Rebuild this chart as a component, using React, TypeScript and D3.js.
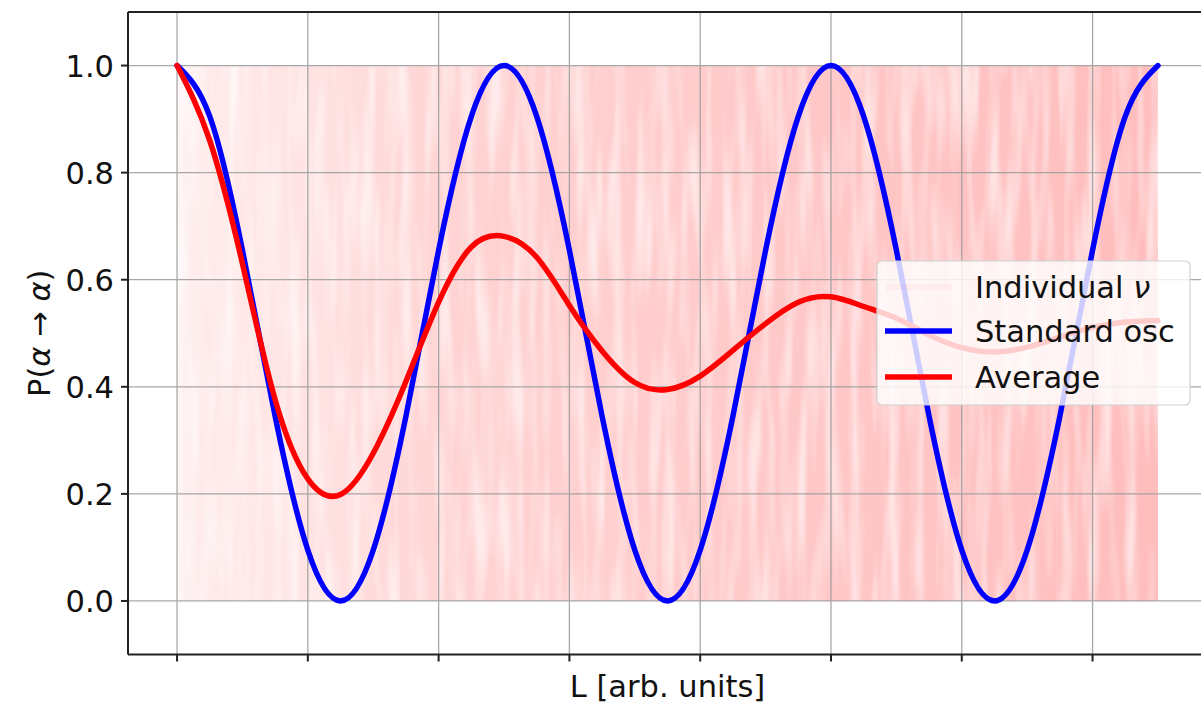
import React from "react";
import * as d3 from "d3";

// ---- data ----
const L_VALUES = [
  0, 0.25, 0.5, 0.75, 1, 1.25, 1.5, 1.75, 2, 2.25, 2.5, 2.75, 3, 3.25, 3.5, 3.75,
  4, 4.25, 4.5, 4.75, 5, 5.25, 5.5, 5.75, 6, 6.25, 6.5, 6.75, 7, 7.25, 7.5,
];
const STANDARD_OSC = [
  1.0, 0.905, 0.655, 0.345, 0.095, 0.0, 0.095, 0.345, 0.655, 0.905,
  1.0, 0.905, 0.655, 0.345, 0.095, 0.0, 0.095, 0.345, 0.655, 0.905,
  1.0, 0.905, 0.655, 0.345, 0.095, 0.0, 0.095, 0.345, 0.655, 0.905,
  1.0,
];
const AVERAGE = [
  1.0, 0.86, 0.63, 0.376, 0.228, 0.199, 0.276, 0.41, 0.558, 0.661, 0.681,
  0.642, 0.552, 0.467, 0.408, 0.395, 0.42, 0.468, 0.518, 0.558, 0.568, 0.55,
  0.528, 0.497, 0.473, 0.465, 0.474, 0.493, 0.511, 0.521, 0.524,
];
// envelope of the many faint individual-neutrino curves (min / max of P)
const INDIVIDUAL_RANGE = [0, 1];
const X_TICKS = [0, 1, 2, 3, 4, 5, 6, 7];
const Y_TICKS = [0, 0.2, 0.4, 0.6, 0.8, 1.0];
const Y_TICK_LABELS = ["0.0", "0.2", "0.4", "0.6", "0.8", "1.0"];
const LEGEND_LABELS = ["Individual ν", "Standard osc", "Average"];

const W = 1201;
const H = 703;
const FONT = "'DejaVu Sans', sans-serif";
const FS = 30.5;
const TXT = "#111";

export default function App() {
  const x = d3.scaleLinear().domain([-0.375, 7.875]).range([128, 1207]);
  const y = d3.scaleLinear().domain([-0.1, 1.1]).range([654.5, 12]);

  const line = (vals: number[]) =>
    d3
      .line<number>()
      .x((_, i) => x(L_VALUES[i]))
      .y((d) => y(d))
      .curve(d3.curveNatural)(vals) || "";

  const [x0, x1] = [x(L_VALUES[0]), x(L_VALUES[L_VALUES.length - 1])];
  const [r0, r1] = x.range();
  const [yb, yt] = y.range();

  const lx = 877, ly = 261, lw = 313, lh = 144;
  const rowY = [287, 331, 377];

  return (
    <svg
      width={W}
      height={H}
      style={{ position: "absolute", left: 0, top: 0, background: "#fff" }}
      fontFamily={FONT}
    >
      <defs>
        <linearGradient id="indiv" x1="0" x2="1" y1="0" y2="0">
          <stop offset="0" stopColor="#ff0000" stopOpacity={0.04} />
          <stop offset="0.02" stopColor="#ff0000" stopOpacity={0.08} />
          <stop offset="0.13" stopColor="#ff0000" stopOpacity={0.11} />
          <stop offset="0.27" stopColor="#ff0000" stopOpacity={0.17} />
          <stop offset="0.5" stopColor="#ff0000" stopOpacity={0.2} />
          <stop offset="1" stopColor="#ff0000" stopOpacity={0.26} />
        </linearGradient>
        <linearGradient id="edge" x1="0" x2="1" y1="0" y2="0">
          <stop offset="0" stopColor="#ff0000" stopOpacity={0.05} />
          <stop offset="0.3" stopColor="#ff0000" stopOpacity={0.2} />
          <stop offset="1" stopColor="#ff0000" stopOpacity={0.3} />
        </linearGradient>
        <filter id="streaks" x="0" y="0" width="1" height="1">
          <feTurbulence type="fractalNoise" baseFrequency="0.08 0.007" numOctaves={2} seed={4} />
          <feColorMatrix
            type="matrix"
            values="0 0 0 0 1  0 0 0 0 1  0 0 0 0 1  2.6 0 0 0 -1.05"
          />
        </filter>
        <clipPath id="axclip">
          <rect x={r0} y={yt} width={r1 - r0} height={yb - yt} />
        </clipPath>
      </defs>

      {/* individual neutrino curves (envelope band) */}
      <g clipPath="url(#axclip)">
        <rect
          x={x0}
          y={y(INDIVIDUAL_RANGE[1])}
          width={x1 - x0}
          height={y(INDIVIDUAL_RANGE[0]) - y(INDIVIDUAL_RANGE[1])}
          fill="url(#indiv)"
        />
        <rect
          x={x0}
          y={y(INDIVIDUAL_RANGE[1])}
          width={x1 - x0}
          height={y(INDIVIDUAL_RANGE[0]) - y(INDIVIDUAL_RANGE[1])}
          fill="#fff"
          filter="url(#streaks)"
          opacity={0.55}
        />
        {INDIVIDUAL_RANGE.map((v, i) => (
          <line
            key={i}
            x1={x0}
            x2={x1}
            y1={y(v)}
            y2={y(v)}
            stroke="url(#edge)"
            strokeWidth={2}
          />
        ))}
      </g>

      {/* grid */}
      <g stroke="#9a9a9a" strokeWidth={1.3} opacity={0.85}>
        {X_TICKS.map((t) => (
          <line key={"gx" + t} x1={x(t)} x2={x(t)} y1={yt} y2={yb} />
        ))}
        {Y_TICKS.map((t) => (
          <line key={"gy" + t} x1={r0} x2={r1} y1={y(t)} y2={y(t)} />
        ))}
      </g>

      {/* curves */}
      <g clipPath="url(#axclip)" fill="none" strokeLinecap="round" strokeLinejoin="round">
        <path d={line(STANDARD_OSC)} stroke="#0000ff" strokeWidth={5.5} />
        <path d={line(AVERAGE)} stroke="#ff0000" strokeWidth={5.5} />
      </g>

      {/* spines */}
      <g stroke="#222" strokeWidth={2} fill="none">
        <line x1={r0} x2={r0} y1={yt} y2={yb} />
        <line x1={r0} x2={r1} y1={yb} y2={yb} />
        <line x1={r0} x2={r1} y1={yt} y2={yt} />
        <line x1={r1} x2={r1} y1={yt} y2={yb} />
      </g>

      {/* ticks */}
      <g stroke="#222" strokeWidth={2}>
        {X_TICKS.map((t) => (
          <line key={"xt" + t} x1={x(t)} x2={x(t)} y1={yb} y2={yb + 7} />
        ))}
        {Y_TICKS.map((t) => (
          <line key={"yt" + t} x1={r0 - 7} x2={r0} y1={y(t)} y2={y(t)} />
        ))}
      </g>
      <g fontSize={FS} fill={TXT} textAnchor="end">
        {Y_TICKS.map((t, i) => (
          <text key={"yl" + t} x={r0 - 14} y={y(t) + FS * 0.3645}>
            {Y_TICK_LABELS[i]}
          </text>
        ))}
      </g>

      {/* axis labels */}
      <text x={(r0 + r1) / 2} y={697} fontSize={FS} fill={TXT} textAnchor="middle">
        L [arb. units]
      </text>
      <text
        transform={`translate(50, ${(yt + yb) / 2}) rotate(-90)`}
        fontSize={FS}
        fill={TXT}
        textAnchor="middle"
      >
        P(
        <tspan fontStyle="italic">α</tspan>
        {" → "}
        <tspan fontStyle="italic">α</tspan>)
      </text>

      {/* legend */}
      <g>
        <rect
          x={lx}
          y={ly}
          width={lw}
          height={lh}
          rx={5}
          fill="#ffffff"
          fillOpacity={0.8}
          stroke="#d0d0d0"
          strokeWidth={1.2}
        />
        <line x1={885} x2={952} y1={rowY[0]} y2={rowY[0]} stroke="#ff0000" strokeOpacity={0.03} strokeWidth={5.5} />
        <line x1={885} x2={952} y1={rowY[1]} y2={rowY[1]} stroke="#0000ff" strokeWidth={5.5} />
        <line x1={885} x2={952} y1={rowY[2]} y2={rowY[2]} stroke="#ff0000" strokeWidth={5.5} />
        <g fontSize={FS} fill={TXT}>
          <text x={975} y={rowY[0] + FS * 0.3645}>
            Individual <tspan fontStyle="italic">ν</tspan>
          </text>
          <text x={975} y={rowY[1] + FS * 0.3645}>{LEGEND_LABELS[1]}</text>
          <text x={975} y={rowY[2] + FS * 0.3645}>{LEGEND_LABELS[2]}</text>
        </g>
      </g>
    </svg>
  );
}
